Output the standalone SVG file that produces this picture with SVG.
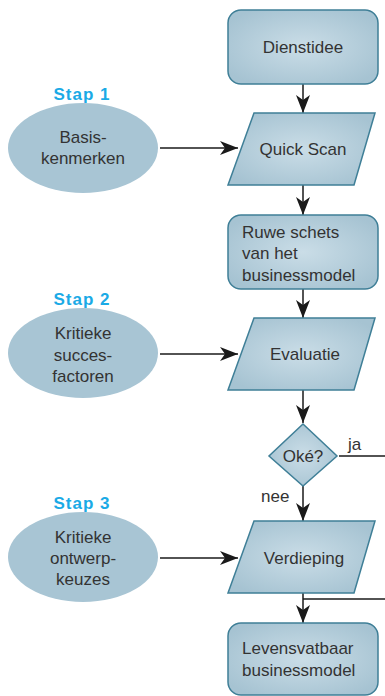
<svg xmlns="http://www.w3.org/2000/svg" width="385" height="696" viewBox="0 0 385 696">
<style>
.box{fill:url(#g);stroke:#3f7f97;stroke-width:1.5}
.ell{fill:#a8c5d4}
.t{font-family:"Liberation Sans",Arial,sans-serif;font-size:17px;fill:#333}
.c{text-anchor:middle}
.stap{font-family:"Liberation Sans",Arial,sans-serif;font-size:17px;font-weight:bold;fill:#1aaae6;letter-spacing:1px;text-anchor:middle}
.ln{stroke:#1a1a1a;stroke-width:1.5;fill:none}
</style>
<defs>
<radialGradient id="g" cx="50%" cy="50%" r="60%">
<stop offset="0" stop-color="#cadde7"/>
<stop offset="1" stop-color="#a6c3d2"/>
</radialGradient>
<marker id="a" viewBox="0 0 18 14" refX="18" refY="7" markerWidth="18" markerHeight="14" markerUnits="userSpaceOnUse" orient="auto">
<path d="M0,0 L18,7 L0,14 L5,7 Z" fill="#1a1a1a"/>
</marker>
</defs>
<g id="connectors">
<line class="ln" x1="303" y1="84" x2="303" y2="113" marker-end="url(#a)"/>
<line class="ln" x1="160" y1="148" x2="238" y2="148" marker-end="url(#a)"/>
<line class="ln" x1="303" y1="185" x2="303" y2="215" marker-end="url(#a)"/>
<line class="ln" x1="303" y1="289" x2="303" y2="318" marker-end="url(#a)"/>
<line class="ln" x1="160" y1="354" x2="238" y2="354" marker-end="url(#a)"/>
<line class="ln" x1="303" y1="390" x2="303" y2="423" marker-end="url(#a)"/>
<line class="ln" x1="339" y1="456" x2="385" y2="456"/>
<line class="ln" x1="303" y1="486" x2="303" y2="521" marker-end="url(#a)"/>
<line class="ln" x1="160" y1="558" x2="238" y2="558" marker-end="url(#a)"/>
<line class="ln" x1="303" y1="593" x2="303" y2="623" marker-end="url(#a)"/>
<line class="ln" x1="303" y1="599" x2="385" y2="599"/>
<text class="t" x="348" y="450">ja</text>
<text class="t" x="261" y="502">nee</text>
</g>
<g id="dienstidee">
<rect class="box" x="228" y="10" width="150" height="74" rx="13"/>
<text class="t c" x="303" y="53">Dienstidee</text>
</g>
<g id="stap1">
<text class="stap" x="82" y="100">Stap 1</text>
<ellipse class="ell" cx="83" cy="148" rx="75" ry="45"/>
<text class="t c" x="83" y="143">Basis-</text>
<text class="t c" x="83" y="164">kenmerken</text>
</g>
<g id="quickscan">
<polygon class="box" points="254,113 375,113 354,185 228,185"/>
<text class="t c" x="303" y="155">Quick Scan</text>
</g>
<g id="ruweschets">
<rect class="box" x="228" y="215" width="150" height="74" rx="13"/>
<text class="t" x="242" y="238">Ruwe schets</text>
<text class="t" x="242" y="259">van het</text>
<text class="t" x="242" y="281">businessmodel</text>
</g>
<g id="stap2">
<text class="stap" x="82" y="305">Stap 2</text>
<ellipse class="ell" cx="83" cy="353" rx="75" ry="45"/>
<text class="t c" x="83" y="339">Kritieke</text>
<text class="t c" x="83" y="361">succes-</text>
<text class="t c" x="83" y="382">factoren</text>
</g>
<g id="evaluatie">
<polygon class="box" points="254,318 375,318 354,390 228,390"/>
<text class="t c" x="305" y="360">Evaluatie</text>
</g>
<g id="oke">
<polygon class="box" points="303,424 337,456 303,486 269,456"/>
<text class="t c" x="303" y="462">Oké?</text>
</g>
<g id="stap3">
<text class="stap" x="82" y="509">Stap 3</text>
<ellipse class="ell" cx="83" cy="557" rx="75" ry="45"/>
<text class="t c" x="83" y="543">Kritieke</text>
<text class="t c" x="83" y="564">ontwerp-</text>
<text class="t c" x="83" y="585">keuzes</text>
</g>
<g id="verdieping">
<polygon class="box" points="254,521 375,521 354,593 228,593"/>
<text class="t c" x="304" y="564">Verdieping</text>
</g>
<g id="levensvatbaar">
<rect class="box" x="228" y="623" width="150" height="72" rx="13"/>
<text class="t" x="242" y="654">Levensvatbaar</text>
<text class="t" x="242" y="676">businessmodel</text>
</g>
</svg>
